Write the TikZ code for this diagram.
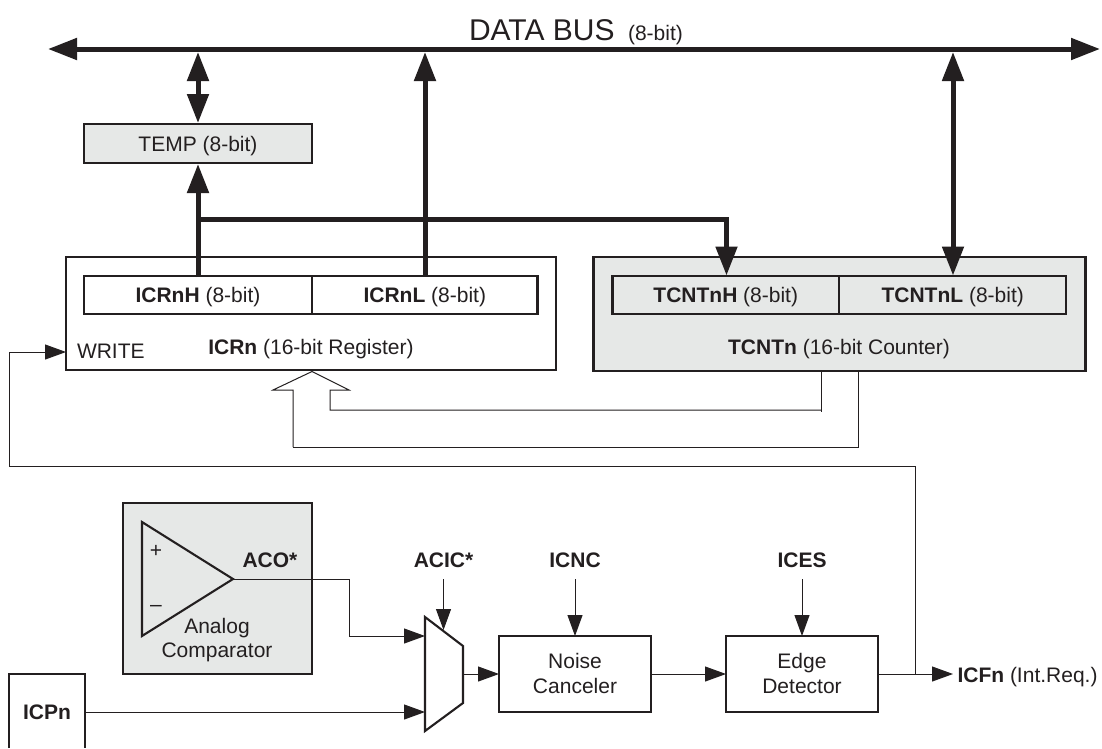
\documentclass[tikz,border=0pt]{standalone}
\usepackage{fontspec}
\setmainfont{Liberation Sans}
\usetikzlibrary{arrows.meta,calc}
\definecolor{ink}{HTML}{231F20}
\definecolor{shade}{HTML}{E6E8E7}
\newcommand{\fsz}{\fontsize{21}{25}\selectfont}
\tikzset{
  x=1pt,y=-1pt,
  every node/.style={inner sep=0pt,outer sep=0pt,text=ink,font=\fsz},
  boxo/.style={draw=ink,line width=2.1pt,line join=miter},
  gbox/.style={boxo,fill=shade},
  regbox/.style={boxo,minimum height=37.5pt,text height=14pt,text depth=0pt},
  lab/.style={anchor=base},
  labw/.style={anchor=base west},
  bigtip/.tip={Triangle[length=29pt,width=21pt]},
  smalltip/.tip={Triangle[length=21pt,width=15pt]},
  bus/.style={draw=ink,line width=5pt,{bigtip}-{bigtip}},
  busup/.style={draw=ink,line width=5pt,-{bigtip}},
  bushalf/.style={draw=ink,line width=5pt},
  thin/.style={draw=ink,line width=1pt},
  sig/.style={thin,-{smalltip}},
}
\begin{document}
\begin{tikzpicture}
\useasboundingbox[fill=white] (0,0) rectangle (1102,748);

% text of the bus
\node (bustitle) [labw,font=\fontsize{30}{32}\selectfont] at (469,40) {DATA BUS};
\node (buswidth) [labw] at (628,40) {(8-bit)};

% registers
\node (temp) [gbox,minimum width=228pt,minimum height=39pt,text height=15pt,text depth=0pt] at (198,143.5) {TEMP (8-bit)};
\node (icrn) [boxo,minimum width=490pt,minimum height=113pt] at (311,313.5) {};
\node (icrnh) [regbox,minimum width=228pt] at (198,295) {\textbf{ICRnH} (8-bit)};
\node (icrnl) [regbox,minimum width=225.5pt] at (424.75,295) {\textbf{ICRnL} (8-bit)};
\node (icrnt) [lab] at (311,354) {\textbf{ICRn} (16-bit Register)};
\node (write) [labw] at (77,358) {WRITE};

\node (tcnt) [gbox,minimum width=492pt,minimum height=114pt] at (839.5,314) {};
\node (tcnth) [regbox,minimum width=226.5pt] at (725.75,295) {\textbf{TCNTnH} (8-bit)};
\node (tcntl) [regbox,minimum width=227.4pt] at (952.7,295) {\textbf{TCNTnL} (8-bit)};
\node (tcntt) [lab] at (839,354) {\textbf{TCNTn} (16-bit Counter)};

% bus and thick connectors
\coordinate (busl) at (48,49);
\coordinate (busr) at (1100,49);
\coordinate (bt) at (198,52);
\coordinate (bl) at (425,52);
\coordinate (bc) at (953,52);
\coordinate (tempin) at (198,164);
\coordinate (hstart) at (198,277);
\coordinate (branch) at (198,219);
\coordinate (branchend) at (726.5,219);
\coordinate (tcnthin) at (726.5,275.5);
\coordinate (tcntlin) at (953,275.5);
\coordinate (lstart) at (425,276);
\coordinate (tempout) at (198,123);
\draw[bus] (busl) -- (busr);
\draw[bus] (bt) -- (tempout);
\draw[busup] (lstart) -- (bl);
\draw[busup] (hstart) -- (tempin);
\draw[bushalf,-{bigtip},line join=miter] (branch) -- (branchend) -- (tcnthin);
\draw[bus] (bc) -- (tcntlin);

% open arrow from counter to register
\coordinate (openTip) at (312,371.5);
\coordinate (openL) at (273,390);
\coordinate (openR) at (349,390);
\coordinate (openLs) at (293,390);
\coordinate (openRs) at (330,390);
\coordinate (cntA) at (821,371);
\coordinate (cntB) at (858,371);
\coordinate (cntAb) at (821,412);
\coordinate (cntAh) at (821,410);
\coordinate (cntBh) at (858,447);
\coordinate (openRb) at (330,410);
\coordinate (openLb) at (293,447);
\draw[thin] (openLb) -- (openLs) -- (openL) -- (openTip) -- (openR) -- (openRs) -- (openRb) -- (cntAh);
\draw[thin] (cntA) -- (cntAb);
\draw[thin] (cntB) -- (cntBh) -- (openLb);

% comparator
\node (ac) [gbox,minimum width=189pt,minimum height=171pt] at (217.5,588.5) {};
\coordinate (opA) at (142,522);
\coordinate (opB) at (233,579);
\coordinate (opC) at (142,636);
\draw[boxo] (opA) -- (opB) -- (opC) -- cycle;
\node (plus) at (156,551) {+};
\node (minus) at (156,608) {--};
\node (analog) [lab] at (217,633) {Analog};
\node (compar) [lab] at (217,657) {Comparator};
\node (aco) [lab] at (270,567) {\textbf{ACO*}};

% multiplexer
\coordinate (mA) at (425,617);
\coordinate (mB) at (463,646);
\coordinate (mC) at (463,703);
\coordinate (mD) at (425,731);
\draw[boxo] (mA) -- (mB) -- (mC) -- (mD) -- cycle;
\coordinate (mIn1) at (425,636);
\coordinate (mIn2) at (425,712);
\coordinate (mOut) at (463,674);
\coordinate (mSel) at (443.5,630);
\coordinate (acoBend1) at (349,579);
\coordinate (acoBend2) at (349,636);
\draw[sig] (opB) -- (acoBend1) -- (acoBend2) -- (mIn1);
\node (acic) [lab] at (443.5,567) {\textbf{ACIC*}};
\coordinate (acicS) at (443.5,579);
\draw[sig] (acicS) -- (mSel);

% ICP pin
\node (icpn) [lab] at (47,719) {\textbf{ICPn}};
\coordinate (pA) at (9,748);
\coordinate (pB) at (9,674);
\coordinate (pC) at (85,674);
\coordinate (pD) at (85,748);
\coordinate (pOut) at (85,712);
\draw[boxo] (pA) -- (pB) -- (pC) -- (pD);
\draw[sig] (pOut) -- (mIn2);

% noise canceler and edge detector
\node (noise) [boxo,minimum width=152pt,minimum height=76pt] at (575,674) {};
\node (noiset1) [lab] at (575,668) {Noise};
\node (noiset2) [lab] at (575,693) {Canceler};
\node (edge) [boxo,minimum width=152pt,minimum height=76pt] at (802,674) {};
\node (edget1) [lab] at (802,668) {Edge};
\node (edget2) [lab] at (802,693) {Detector};
\draw[sig] (mOut) -- (noise.west);
\draw[sig] (noise.east) -- (edge.west);
\node (icnc) [lab] at (575,567) {\textbf{ICNC}};
\node (ices) [lab] at (802,567) {\textbf{ICES}};
\coordinate (icncS) at (575,579);
\coordinate (icesS) at (802,579);
\draw[sig] (icncS) -- (noise.north);
\draw[sig] (icesS) -- (edge.north);
\node (icfn) [labw] at (957.5,682) {\textbf{ICFn} (Int.Req.)};
\coordinate (icfnIn) at (953,674);
\draw[sig] (edge.east) -- (icfnIn);

% feedback to WRITE
\coordinate (fbJ) at (915,674);
\coordinate (fbT) at (915,466);
\coordinate (fbL) at (9.6,466);
\coordinate (fbW) at (9.6,352);
\coordinate (icrnw) at (icrn.west |- fbW);
\draw[sig] (fbJ) -- (fbT) -- (fbL) -- (fbW) -- (icrnw);
\end{tikzpicture}
\end{document}
